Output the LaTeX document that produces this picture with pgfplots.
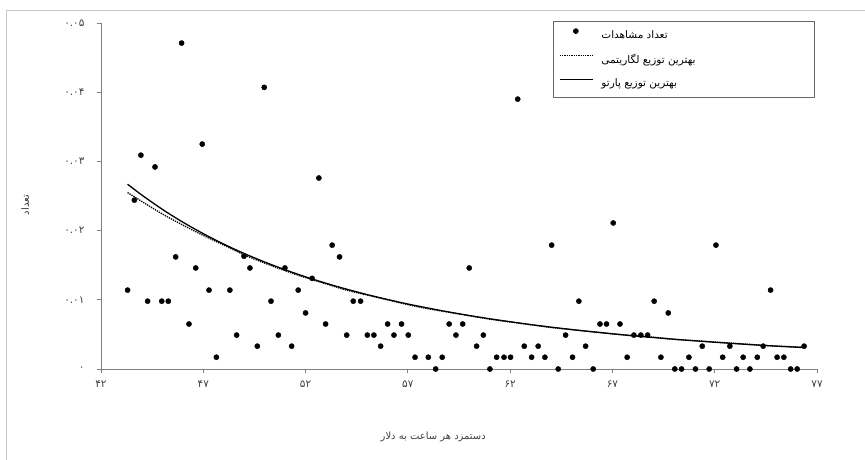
\documentclass[border=0pt]{standalone}
\usepackage{fontspec}
\usepackage{pgfplots}
\pgfplotsset{compat=1.18}
\TeXXeTstate=1
\newfontfamily\arabicfont[Script=Arabic]{DejaVu Sans}

\begin{document}
\begin{tikzpicture}
\useasboundingbox (-101bp,-91bp) rectangle (764bp,369bp);
\draw[black!22, line width=1bp] (-94bp,-91bp) -- (-94bp,358bp) -- (764bp,358bp);
\begin{axis}[
  at={(0bp,0bp)}, anchor=south west,
  scale only axis, width=716bp, height=346bp,
  xmin=42, xmax=77, ymin=0, ymax=0.05,
  clip=false,
  axis lines*=left,
  axis line style={black!50, line width=0.9bp},
  tick align=outside,
  major tick length=4bp,
  tick style={black!50, line width=0.8bp},
  xtick={42,47,52,57,62,67,72,77},
  xticklabels={۴۲,۴۷,۵۲,۵۷,۶۲,۶۷,۷۲,۷۷},
  ytick={0,0.01,0.02,0.03,0.04,0.05},
  yticklabels={۰,۰.۰۱,۰.۰۲,۰.۰۳,۰.۰۴,۰.۰۵},
  scaled y ticks=false,
  xticklabel style={font=\arabicfont\fontsize{10.5}{12}\selectfont, text=black!75, yshift=-4bp},
  yticklabel style={font=\arabicfont\fontsize{10.5}{12}\selectfont, text=black!75, xshift=-9bp},
  xlabel={\arabicfont\beginR دستمزد هر ساعت به دلار\endR},
  ylabel={\arabicfont\beginR تعداد\endR},
  xlabel style={at={(axis description cs:0.464,-0.197)}, anchor=center, font=\fontsize{10}{12}\selectfont, text=black!75},
  ylabel style={at={(axis description cs:-0.106,0.474)}, anchor=center, font=\fontsize{10}{12}\selectfont, text=black!80},
  legend style={at={(axis description cs:0.631,1.006)}, anchor=north west,
    draw=black!60, line width=0.8bp, fill=white,
    font=\arabicfont\fontsize{10.5}{12}\selectfont,
    row sep=10bp, column sep=6bp, inner xsep=6bp, inner ysep=7bp},
  legend cell align=left,
]
\addplot[only marks, mark=*, mark size=2.6bp, black,
  legend image code/.code={\fill[black] (16bp,4bp) circle (2.4bp);}] coordinates {
(43.30,0.0114) (43.63,0.0244) (43.95,0.0309) (44.28,0.0098) (44.64,0.0292)
(44.97,0.0098) (45.29,0.0098) (45.65,0.0162) (45.94,0.0471) (46.30,0.0065)
(46.63,0.0146) (46.95,0.0325) (47.28,0.0114) (47.64,0.0017) (48.30,0.0114)
(48.63,0.0049) (48.99,0.0163) (49.28,0.0146) (49.64,0.0033) (49.98,0.0407)
(50.31,0.0098) (50.67,0.0049) (50.99,0.0146) (51.32,0.0033) (51.64,0.0114)
(52.00,0.0081) (52.32,0.0131) (52.65,0.0276) (52.98,0.0065) (53.30,0.0179)
(53.66,0.0162) (54.01,0.0049) (54.33,0.0098) (54.69,0.0098) (55.02,0.0049)
(55.34,0.0049) (55.67,0.0033) (56.01,0.0065) (56.32,0.0049) (56.69,0.0065)
(57.02,0.0049) (57.35,0.0017) (58.00,0.0017) (58.36,0.0000) (58.68,0.0017)
(59.02,0.0065) (59.35,0.0049) (59.68,0.0065) (60.00,0.0146) (60.36,0.0033)
(60.69,0.0049) (61.01,0.0000) (61.34,0.0017) (61.70,0.0017) (62.02,0.0017)
(62.37,0.0390) (62.69,0.0033) (63.05,0.0017) (63.37,0.0033) (63.70,0.0017)
(64.03,0.0179) (64.35,0.0000) (64.71,0.0049) (65.05,0.0017) (65.36,0.0098)
(65.69,0.0033) (66.06,0.0000) (66.39,0.0065) (66.71,0.0065) (67.04,0.0211)
(67.37,0.0065) (67.72,0.0017) (68.05,0.0049) (68.39,0.0049) (68.72,0.0049)
(69.04,0.0098) (69.37,0.0017) (69.73,0.0081) (70.05,0.0000) (70.38,0.0000)
(70.74,0.0017) (71.06,0.0000) (71.39,0.0033) (71.73,0.0000) (72.06,0.0179)
(72.39,0.0017) (72.74,0.0033) (73.07,0.0000) (73.39,0.0017) (73.72,0.0000)
(74.08,0.0017) (74.37,0.0033) (74.73,0.0114) (75.05,0.0017) (75.38,0.0017)
(75.71,0.0000) (76.03,0.0000) (76.37,0.0033)
};
\addlegendentry{\makebox[205bp][l]{\beginR تعداد مشاهدات\endR}}
\addplot[black, densely dotted, line width=1.3bp, smooth,
  legend image code/.code={\draw[black, densely dotted, line width=1.3bp] (0bp,4bp) -- (33bp,4bp);}] coordinates {
(43.3,0.0255) (44,0.0242) (45,0.0224) (46,0.0208) (47,0.0193) (48,0.0179)
(49,0.0165) (50,0.0153) (51,0.0142) (52,0.0132) (53,0.0123) (54,0.0114)
(55,0.0107) (56,0.0100) (57,0.0093) (58,0.0087) (59,0.0082) (60,0.0077)
(61,0.0072) (62,0.0068) (63,0.0064) (64,0.0060) (65,0.0057) (66,0.0054)
(67,0.0051) (68,0.0048) (69,0.0046) (70,0.0043) (71,0.0041) (72,0.0039)
(73,0.0037) (74,0.0035) (75,0.0033) (76,0.0032) (76.4,0.0031)
};
\addlegendentry{\makebox[205bp][l]{\beginR بهترین توزیع لگاریتمی\endR}}
\addplot[black, line width=1.3bp, smooth,
  legend image code/.code={\draw[black, line width=1.3bp] (0bp,4bp) -- (33bp,4bp);}] coordinates {
(43.3,0.0267) (44,0.02513) (45,0.02307) (46,0.02122) (47,0.01956) (48,0.01805)
(49,0.01669) (50,0.01546) (51,0.01434) (52,0.01332) (53,0.01239) (54,0.01154)
(55,0.01076) (56,0.01005) (57,0.00939) (58,0.00880) (59,0.00824) (60,0.00773)
(61,0.00726) (62,0.00683) (63,0.00642) (64,0.00605) (65,0.00570) (66,0.00538)
(67,0.00508) (68,0.00481) (69,0.00455) (70,0.00430) (71,0.00408) (72,0.00387)
(73,0.00367) (74,0.00348) (75,0.00331) (76,0.00315) (76.4,0.00309)
};
\addlegendentry{\makebox[205bp][l]{\beginR بهترین توزیع پارتو\endR}}
\end{axis}
\end{tikzpicture}
\end{document}
